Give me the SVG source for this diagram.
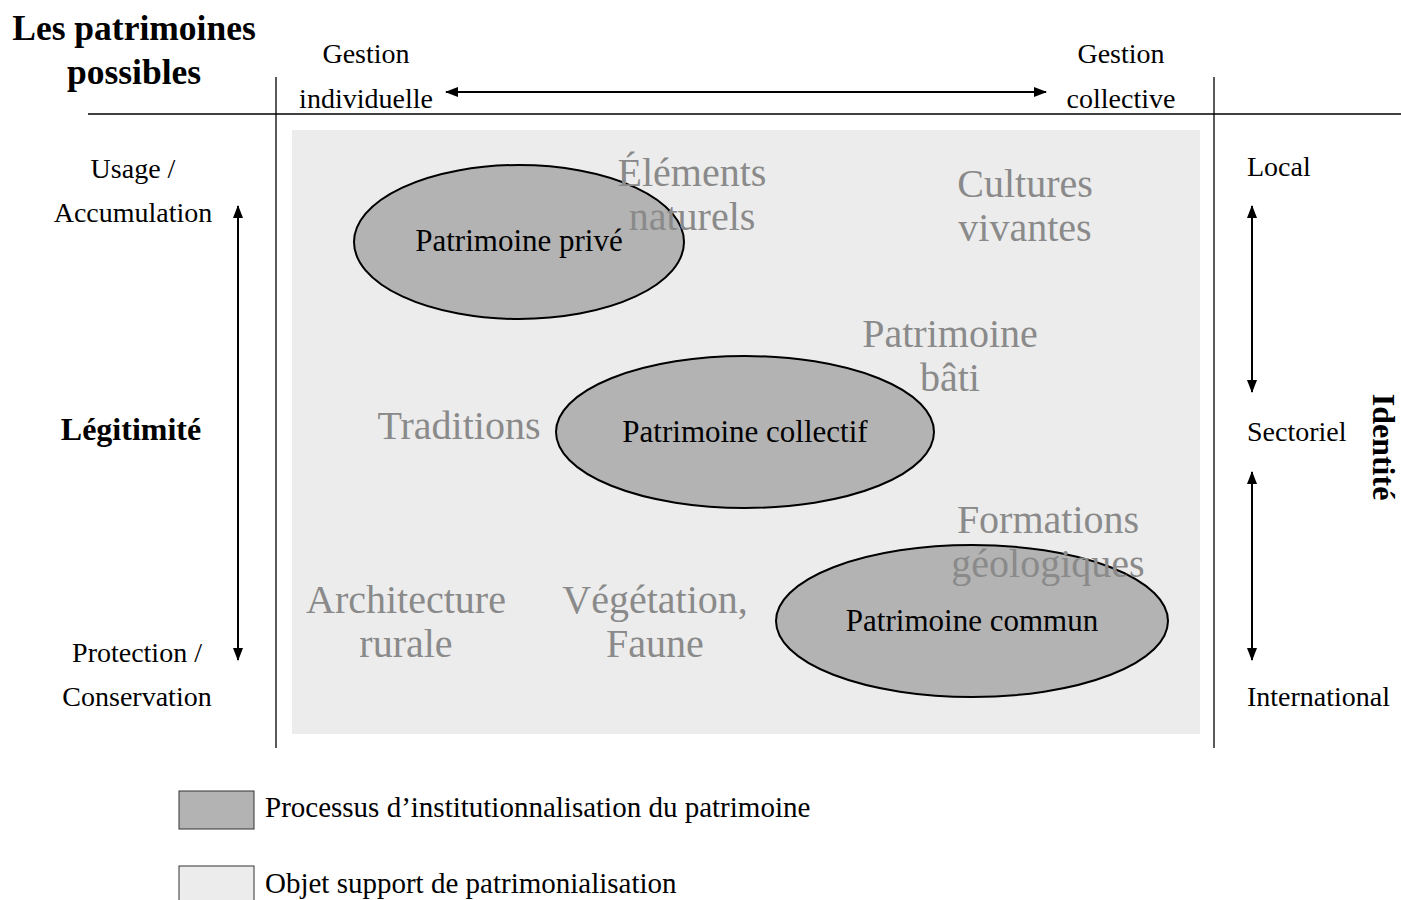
<svg xmlns="http://www.w3.org/2000/svg" width="1401" height="900" viewBox="0 0 1401 900">
<style>
text{font-family:"Liberation Serif","Times New Roman",serif;}
.s{font-size:28px;fill:#000;}
.b{font-weight:bold;}
.g{font-size:40px;fill:#8a8a8a;}
.l{font-size:31px;fill:#000;}
.m{text-anchor:middle;}
.lg{font-size:29px;fill:#000;}
.ax{stroke:#000;stroke-width:1.3;fill:none;}
.ar{stroke:#000;stroke-width:2;fill:none;marker-start:url(#ah);marker-end:url(#ah);}
.el{fill:#b3b3b3;stroke:#000;stroke-width:2;}
</style>
<defs>
<marker id="ah" markerUnits="userSpaceOnUse" markerWidth="13" markerHeight="11" refX="12" refY="5" orient="auto-start-reverse">
<path d="M0,0 L13,5 L0,10 z" fill="#000"/>
</marker>
</defs>
<rect width="1401" height="900" fill="#fff"/>
<g id="title">
<text class="b m" x="134" y="40" style="font-size:35.5px">Les patrimoines</text>
<text class="b m" x="134" y="84" style="font-size:35.5px">possibles</text>
</g>
<g id="axes">
<line class="ax" x1="276" y1="77" x2="276" y2="748"/>
<line class="ax" x1="1214" y1="77" x2="1214" y2="748"/>
<line class="ax" x1="88" y1="114" x2="1401" y2="114"/>
</g>
<rect id="support" x="292" y="130" width="908" height="604" fill="#ececec"/>
<g id="connectors">
<line class="ar" x1="446" y1="92" x2="1046" y2="92"/>
<line class="ar" x1="238" y1="206" x2="238" y2="660"/>
<line class="ar" x1="1252" y1="206" x2="1252" y2="392"/>
<line class="ar" x1="1252" y1="472" x2="1252" y2="660"/>
</g>
<g id="top-labels">
<text class="s m" x="366" y="63">Gestion</text>
<text class="s m" x="366" y="108">individuelle</text>
<text class="s m" x="1121" y="63">Gestion</text>
<text class="s m" x="1121" y="108">collective</text>
</g>
<g id="left-labels">
<text class="s m" x="133" y="178">Usage /</text>
<text class="s m" x="133" y="222">Accumulation</text>
<text class="s b m" x="131" y="440" style="font-size:32px">Légitimité</text>
<text class="s m" x="137" y="662">Protection /</text>
<text class="s m" x="137" y="706">Conservation</text>
</g>
<g id="right-labels">
<text class="s" x="1247" y="176">Local</text>
<text class="s" x="1247" y="441">Sectoriel</text>
<text class="s" x="1247" y="706">International</text>
<text class="b m" transform="translate(1373,447) rotate(90)" style="font-size:32px">Identité</text>
</g>
<g id="prive"><ellipse class="el" cx="519" cy="242" rx="165" ry="77"/></g>
<g id="collectif"><ellipse class="el" cx="745" cy="432" rx="189" ry="76"/></g>
<g id="commun"><ellipse class="el" cx="972" cy="621" rx="196" ry="76"/></g>
<g id="objects">
<text class="g m" x="692" y="186">Éléments</text>
<text class="g m" x="692" y="230">naturels</text>
<text class="g m" x="1025" y="197">Cultures</text>
<text class="g m" x="1025" y="241">vivantes</text>
<text class="g m" x="950" y="347">Patrimoine</text>
<text class="g m" x="950" y="391">bâti</text>
<text class="g m" x="459" y="439">Traditions</text>
<text class="g m" x="1048" y="533">Formations</text>
<text class="g m" x="1048" y="577">géologiques</text>
<text class="g m" x="406" y="613">Architecture</text>
<text class="g m" x="406" y="657">rurale</text>
<text class="g m" x="655" y="613">Végétation,</text>
<text class="g m" x="655" y="657">Faune</text>
</g>
<g id="process-labels">
<text class="l m" x="519" y="251">Patrimoine privé</text>
<text class="l m" x="745" y="442">Patrimoine collectif</text>
<text class="l m" x="972" y="631">Patrimoine commun</text>
</g>
<g id="legend">
<rect x="179" y="791" width="75" height="38" fill="#b3b3b3" stroke="#333" stroke-width="1"/>
<text class="lg" x="265" y="817">Processus d’institutionnalisation du patrimoine</text>
<rect x="179" y="866" width="75" height="40" fill="#ececec" stroke="#333" stroke-width="1"/>
<text class="lg" x="265" y="893">Objet support de patrimonialisation</text>
</g>
</svg>
